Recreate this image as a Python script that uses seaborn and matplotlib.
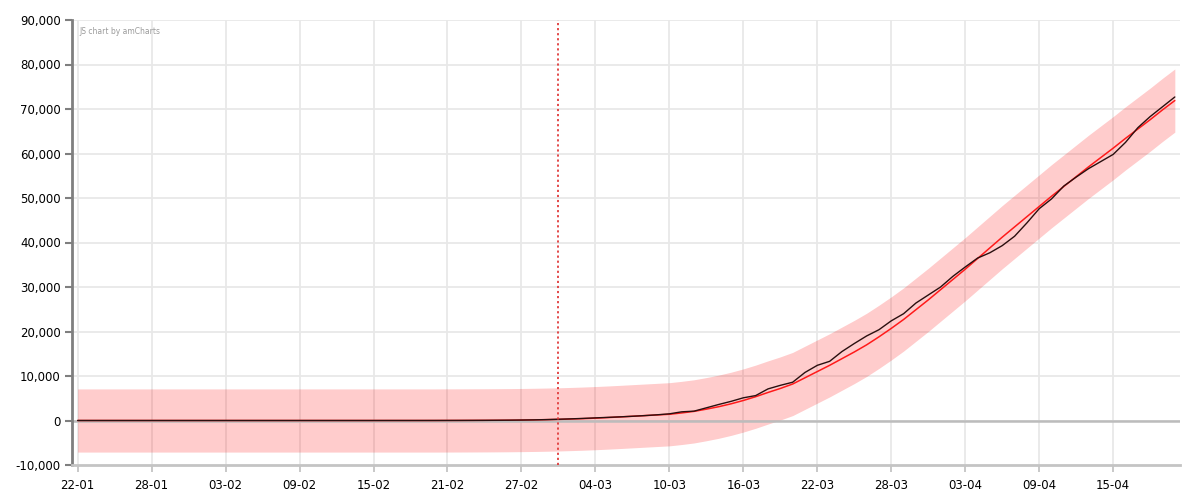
import numpy as np
import pandas as pd
import matplotlib
matplotlib.use("Agg")
import matplotlib.pyplot as plt
import matplotlib.dates as mdates
from matplotlib.ticker import FuncFormatter
import seaborn as sns

# ---------------- data ----------------
start_date = "2020-01-22"
n_days = 90
dates = pd.date_range(start_date, periods=n_days, freq="D")

actual = [0] * 25 + [
    2, 3, 3, 5, 8, 12, 17, 25, 35, 50,
    70, 100, 140, 200, 280, 370, 470, 590, 700, 820,
    950, 1100, 1280, 1500, 1950, 2100, 2850, 3600, 4300, 5100,
    5600, 7100, 7900, 8600, 10800, 12400, 13300, 15500, 17300, 19000,
    20400, 22400, 24000, 26400, 28200, 30000, 32400, 34500, 36500, 37700,
    39300, 41400, 44400, 47600, 49800, 52700, 54700, 56600, 58200, 59800,
    62500, 65800, 68300, 70500, 72700,
]

fitted = [0] * 30 + [
    10, 15, 25, 35, 50, 70, 100, 140, 190, 250,
    330, 420, 530, 660, 800, 950, 1100, 1250, 1400, 1700,
    2050, 2550, 3100, 3750, 4500, 5350, 6300, 7200, 8200, 9600,
    11000, 12400, 13900, 15400, 17000, 18800, 20700, 22700, 24900, 27100,
    29400, 31700, 34000, 36400, 38800, 41200, 43500, 45800, 48100, 50400,
    52600, 54800, 57000, 59100, 61200, 63400, 65500, 67600, 69800, 71900,
]

band_halfwidth = 7100          # half-width of the shaded interval
marker_date = "2020-03-01"     # dotted vertical line
y_ticks = [-10000, 0, 10000, 20000, 30000, 40000, 50000, 60000, 70000, 80000, 90000]
credit_text = "JS chart by amCharts"

df = pd.DataFrame({"date": dates, "actual": actual, "fitted": fitted})
lower = df["fitted"] - band_halfwidth
upper = df["fitted"] + band_halfwidth

# ---------------- figure ----------------
sns.set_theme(style="white")
plt.rcParams["font.family"] = ["DejaVu Sans"]

fig = plt.figure(figsize=(12, 5), dpi=100)
ax = fig.add_axes([0.06, 0.07, 0.9233, 0.89])

# grid
grid_c = "#e8e8e8"
for yv in y_ticks[1:]:
    ax.axhline(yv, color=grid_c, lw=1.3, zorder=0)
tick_dates = pd.date_range(start_date, dates[-1], freq="6D")
for d in tick_dates:
    ax.axvline(d, color=grid_c, lw=1.3, zorder=0)

# band
ax.fill_between(df["date"], lower, upper, color="#ff0000", alpha=0.2, lw=0, zorder=1)

# zero line
ax.axhline(0, color="#bcbcbc", lw=1.8, zorder=2)

# lines
sns.lineplot(data=df, x="date", y="fitted", ax=ax, color="#ff1a1a", lw=1.1, zorder=3)
sns.lineplot(data=df, x="date", y="actual", ax=ax, color="#2a0f0f", lw=1.0, zorder=4)

# dotted vertical marker
ax.axvline(pd.Timestamp(marker_date), color="#e03a3a", lw=1.3, ls=(0, (1.2, 1.6)), zorder=5)

# axes limits
x0 = dates[0] - pd.Timedelta(hours=11)
x1 = dates[-1] + pd.Timedelta(hours=10)
ax.set_xlim(x0, x1)
ax.set_ylim(-10000, 90000)

# spines
for s in ["top", "right"]:
    ax.spines[s].set_visible(False)
ax.spines["left"].set_color("#7f7f7f")
ax.spines["left"].set_linewidth(2)
ax.spines["bottom"].set_color("#c4c4c4")
ax.spines["bottom"].set_linewidth(2)

ax.set_yticks(y_ticks)
ax.yaxis.set_major_formatter(FuncFormatter(lambda v, p: f"{int(v):,}"))
ax.set_xticks(tick_dates)
ax.xaxis.set_major_formatter(mdates.DateFormatter("%d-%m"))

ax.tick_params(axis="y", left=True, length=5, width=1.5, color="#7f7f7f",
               labelsize=8.5, labelcolor="#000000", pad=3)
ax.tick_params(axis="x", bottom=True, length=5, width=1.3, color="#c4c4c4",
               labelsize=8.5, labelcolor="#000000", pad=5)
ax.set_xlabel("")
ax.set_ylabel("")
if ax.get_legend():
    ax.get_legend().remove()

ax.text(0.0065, 0.985, credit_text, transform=ax.transAxes, fontsize=5.5,
        color="#9a9a9a", ha="left", va="top", zorder=6)

fig.savefig("out.png", dpi=100)
